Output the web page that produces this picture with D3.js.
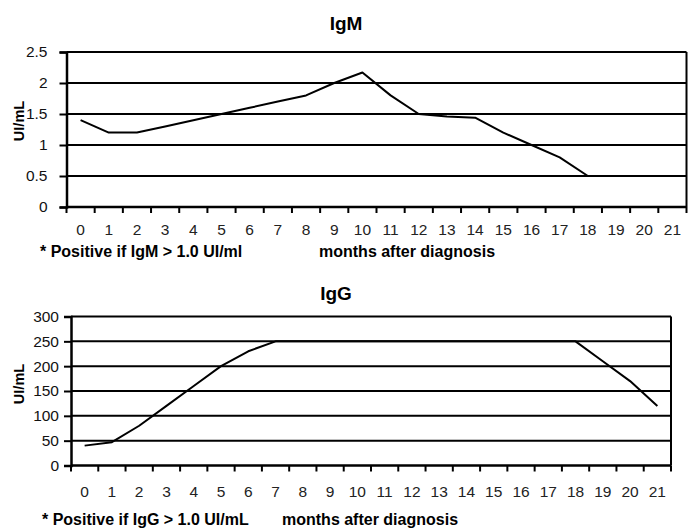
<!DOCTYPE html>
<html>
<head>
<meta charset="utf-8">
<script src="https://cdn.jsdelivr.net/npm/d3@7"></script>
<style>
  body { margin: 0; background: #fff; }
  svg { display: block; }
  text { font-family: "Liberation Sans", Arial, sans-serif; }
</style>
</head>
<body>
<svg id="chart" width="688" height="530"></svg>
<script>
// ---- data ----
const months = [0,1,2,3,4,5,6,7,8,9,10,11,12,13,14,15,16,17,18,19,20,21];
const igmValues = [1.4,1.2,1.2,1.3,1.4,1.5,1.6,1.7,1.8,2.0,2.17,1.8,1.5,1.46,1.44,1.2,1.0,0.8,0.5,0.5,0.5,0.5];
const iggValues = [40,47,80,120,160,200,230,250,250,250,250,250,250,250,250,250,250,250,250,210,170,120];
const igmTicks = [0,0.5,1,1.5,2,2.5];
const iggTicks = [0,50,100,150,200,250,300];
const igmTitle = "IgM";
const iggTitle = "IgG";
const yLabel = "UI/mL";
const xLabel = "months after diagnosis";
const igmNote = "* Positive if IgM > 1.0 UI/ml";
const iggNote = "* Positive if IgG > 1.0 UI/mL";

const svg = d3.select("#chart");

function panel(cfg) {
  const g = svg.append("g");
  const x = d3.scaleBand().domain(months).range([cfg.left, cfg.right]).padding(0);
  const y = d3.scaleLinear().domain([0, cfg.ticks[cfg.ticks.length - 1]]).range([cfg.bottom, cfg.top]);

  // gridlines
  g.append("g").selectAll("line").data(cfg.ticks.filter(t => t > 0)).join("line")
    .attr("x1", cfg.left).attr("x2", cfg.right)
    .attr("y1", d => y(d)).attr("y2", d => y(d))
    .attr("stroke", "#000").attr("stroke-width", 2);
  // right border
  g.append("line").attr("x1", cfg.right).attr("x2", cfg.right)
    .attr("y1", cfg.top).attr("y2", cfg.bottom)
    .attr("stroke", "#000").attr("stroke-width", 2);

  // y axis
  const yAxis = d3.axisLeft(y).tickValues(cfg.ticks).tickSize(7).tickPadding(cfg.yPad)
    .tickFormat(d3.format(""));
  const ya = g.append("g").attr("transform", `translate(${cfg.left},0)`).call(yAxis);
  ya.select(".domain").attr("stroke", "#000").attr("stroke-width", 2.5);
  ya.selectAll(".tick line").attr("stroke", "#000").attr("stroke-width", 2);
  ya.selectAll(".tick text").attr("font-size", 15.5).attr("fill", "#111")
    .attr("font-family", "'Liberation Sans', Arial, sans-serif");

  // x axis: ticks at band boundaries, labels at centers
  const bounds = months.map(m => x(m)).concat([cfg.right]);
  g.append("line").attr("x1", cfg.left).attr("x2", cfg.right)
    .attr("y1", cfg.bottom).attr("y2", cfg.bottom)
    .attr("stroke", "#000").attr("stroke-width", 2.5);
  g.append("g").selectAll("line").data(bounds).join("line")
    .attr("x1", d => d).attr("x2", d => d)
    .attr("y1", cfg.bottom).attr("y2", cfg.bottom + 6)
    .attr("stroke", "#000").attr("stroke-width", 2);
  g.append("g").selectAll("text").data(months).join("text")
    .attr("x", d => x(d) + x.bandwidth() / 2)
    .attr("y", cfg.xLabY)
    .attr("text-anchor", "middle").attr("font-size", 15.5).attr("fill", "#222")
    .text(d => d);

  // line
  const line = d3.line()
    .x((d, i) => x(months[i]) + x.bandwidth() / 2)
    .y(d => y(d));
  g.append("path").datum(cfg.values)
    .attr("d", line).attr("fill", "none")
    .attr("stroke", "#000").attr("stroke-width", 2).attr("stroke-linejoin", "round");

  // title
  g.append("text").attr("x", cfg.titleX).attr("y", cfg.titleY)
    .attr("text-anchor", "middle").attr("font-size", 19).attr("font-weight", "bold")
    .text(cfg.title);
  // y label
  g.append("text")
    .attr("transform", `translate(${cfg.yLabX},${cfg.yLabCY}) rotate(-90)`)
    .attr("text-anchor", "middle").attr("font-size", 14.5).attr("font-weight", "bold")
    .text(yLabel);
  // notes
  g.append("text").attr("x", cfg.noteX).attr("y", cfg.noteY)
    .attr("font-size", 16).attr("font-weight", "bold").text(cfg.note);
  g.append("text").attr("x", cfg.monthsX).attr("y", cfg.noteY)
    .attr("font-size", 16).attr("font-weight", "bold").text(xLabel);
}

panel({
  values: igmValues, ticks: igmTicks, title: igmTitle, note: igmNote,
  left: 66.5, right: 686.5, top: 52, bottom: 207, yPad: 12,
  xLabY: 235, titleX: 346, titleY: 30, yLabX: 24, yLabCY: 121,
  noteX: 40, monthsX: 319, noteY: 257
});
panel({
  values: iggValues, ticks: iggTicks, title: iggTitle, note: iggNote,
  left: 71, right: 671, top: 316.5, bottom: 465.5, yPad: 5,
  xLabY: 497, titleX: 336, titleY: 300, yLabX: 24, yLabCY: 384,
  noteX: 42, monthsX: 282, noteY: 525
});
</script>
</body>
</html>
